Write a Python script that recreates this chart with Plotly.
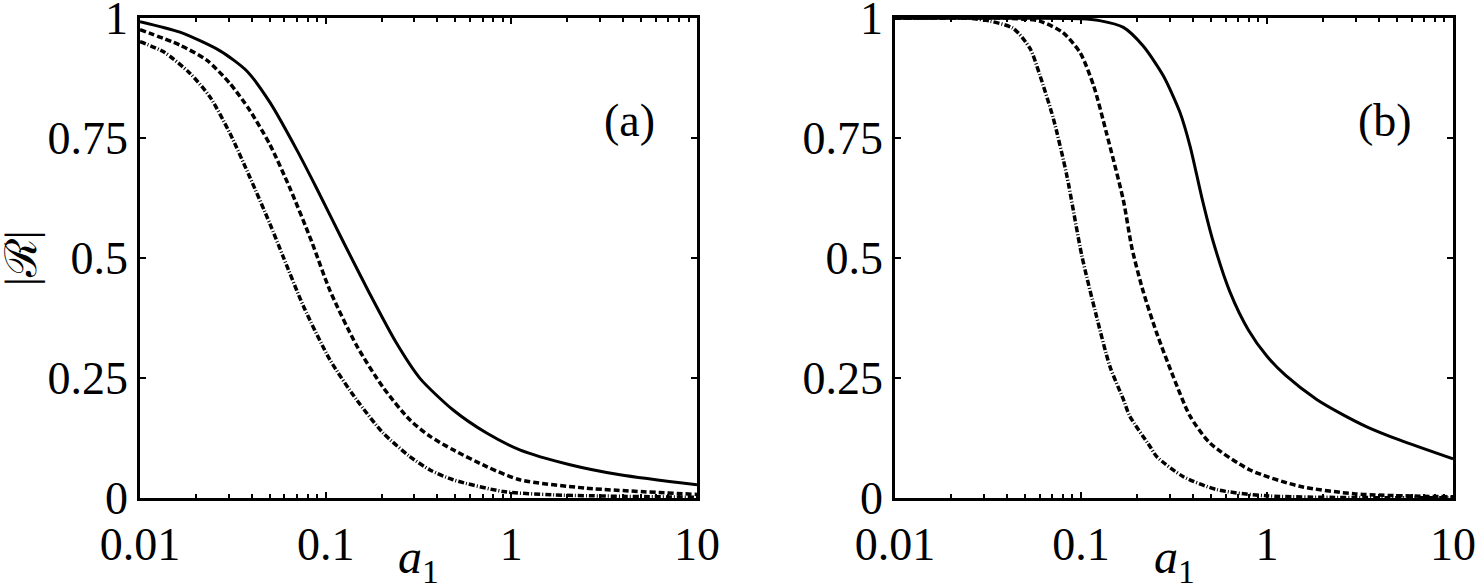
import plotly.graph_objects as go

# ---------------- data ----------------
# panel (a)
a_solid_x = [0.01, 0.0164, 0.027, 0.0376, 0.05, 0.07, 0.0895, 0.124, 0.173, 0.241, 0.322, 0.486, 0.736, 1.11, 2.07, 3.85, 10]
a_solid_y = [0.993, 0.971, 0.932, 0.890, 0.825, 0.725, 0.645, 0.535, 0.425, 0.322, 0.249, 0.183, 0.135, 0.100, 0.069, 0.048, 0.027]

a_dash_x = [0.01, 0.0164, 0.0229, 0.0305, 0.039, 0.05, 0.0643, 0.0839, 0.1055, 0.147, 0.204, 0.284, 0.365, 0.486, 0.736, 1.11, 2.54, 10]
a_dash_y = [0.976, 0.944, 0.9125, 0.864, 0.808, 0.737, 0.645, 0.535, 0.432, 0.317, 0.230, 0.1625, 0.128, 0.100, 0.065, 0.0375, 0.020, 0.007]

a_dd_x = [0.01, 0.0134, 0.0186, 0.0238, 0.0305, 0.039, 0.05, 0.059, 0.076, 0.1055, 0.147, 0.204, 0.284, 0.365, 0.486, 0.906, 1.7, 10]
a_dd_y = [0.951, 0.930, 0.885, 0.836, 0.760, 0.669, 0.572, 0.503, 0.399, 0.2875, 0.204, 0.135, 0.086, 0.058, 0.0375, 0.013, 0.006, 0.001]

# panel (b)
b_solid_x = [0.01, 0.05, 0.1, 0.126, 0.169, 0.216, 0.277, 0.341, 0.386, 0.447, 0.513, 0.631, 0.794, 1.0, 1.26, 1.85, 2.51, 3.44, 5.19, 10]
b_solid_y = [1.0, 1.0, 0.999, 0.995, 0.981, 0.942, 0.880, 0.803, 0.733, 0.625, 0.535, 0.43, 0.35, 0.295, 0.255, 0.205, 0.175, 0.148, 0.120, 0.081]

b_dash_x = [0.01, 0.04, 0.06, 0.08, 0.099, 0.117, 0.137, 0.169, 0.188, 0.216, 0.255, 0.313, 0.386, 0.494, 0.81, 1.5, 3, 10]
b_dash_y = [1.0, 1.0, 0.994, 0.970, 0.928, 0.859, 0.761, 0.620, 0.520, 0.430, 0.344, 0.253, 0.170, 0.114, 0.058, 0.024, 0.008, 0.002]

b_dd_x = [0.01, 0.025, 0.0324, 0.0432, 0.0532, 0.060, 0.071, 0.0838, 0.101, 0.121, 0.143, 0.169, 0.183, 0.235, 0.255, 0.355, 0.537, 1, 10]
b_dd_y = [1.0, 1.0, 0.994, 0.979, 0.937, 0.882, 0.791, 0.673, 0.505, 0.379, 0.274, 0.205, 0.170, 0.107, 0.086, 0.044, 0.017, 0.004, 0.0]

x_tickvals = [0.01, 0.1, 1, 10]
x_ticktext = ["0.01", "0.1", "1", "10"]
y_tickvals = [0, 0.25, 0.5, 0.75, 1]
y_ticktext = ["0", "0.25", "0.5", "0.75", "1"]
panel_labels = ["(a)", "(b)"]

# ---------------- figure ----------------
W, H = 1478, 588
FONT = "Liberation Serif"
fig = go.Figure()

styles = [
    dict(color="black", width=3, dash="solid", shape="spline", smoothing=0.7),
    dict(color="black", width=3.5, dash="6px,3px", shape="spline", smoothing=0.7),
    dict(color="black", width=3.5, dash="6px,2px,1px,2px", shape="spline", smoothing=0.7),
]

panels = [
    ("x", "y", [(a_solid_x, a_solid_y), (a_dash_x, a_dash_y), (a_dd_x, a_dd_y)]),
    ("x2", "y2", [(b_solid_x, b_solid_y), (b_dash_x, b_dash_y), (b_dd_x, b_dd_y)]),
]
for xa, ya, series in panels:
    for (sx, sy), st in zip(series, styles):
        fig.add_trace(go.Scatter(x=sx, y=sy, mode="lines", line=st, cliponaxis=True,
                                 xaxis=xa, yaxis=ya, showlegend=False, hoverinfo="skip"))

x_domains = [[140 / W, 697 / W], [895 / W, 1453 / W]]
y_domain = [1 - 498 / H, 1 - 18 / H]

common_x = dict(
    type="log", range=[-2, 1], tickvals=x_tickvals, ticktext=x_ticktext,
    ticks="inside", ticklen=6, tickwidth=2, tickcolor="black",
    showline=True, linewidth=2.5, linecolor="black", mirror="ticks",
    showgrid=False, zeroline=False, automargin=False,
    ticklabeloverflow="allow", ticklabelstandoff=4,
    tickfont=dict(family=FONT, size=46, color="black"),
    minor=dict(ticks="inside", ticklen=4, tickwidth=2, tickcolor="black", dtick="D1", showgrid=False),
)
common_y = dict(
    range=[-0.0005, 1.0005], tickvals=y_tickvals, ticktext=y_ticktext,
    ticks="inside", ticklen=6, tickwidth=2, tickcolor="black",
    showline=True, linewidth=2.5, linecolor="black", mirror="ticks",
    showgrid=False, zeroline=False, automargin=False,
    ticklabeloverflow="allow",
    tickfont=dict(family=FONT, size=46, color="black"),
    domain=y_domain,
)

fig.update_layout(
    width=W, height=H,
    margin=dict(l=0, r=0, t=0, b=0, autoexpand=False),
    paper_bgcolor="white", plot_bgcolor="white",
    xaxis=dict(common_x, domain=x_domains[0], anchor="y"),
    yaxis=dict(common_y, anchor="x"),
    xaxis2=dict(common_x, domain=x_domains[1], anchor="y2"),
    yaxis2=dict(common_y, anchor="x2"),
)

annotations = []
for xd, lab in zip(x_domains, panel_labels):
    annotations.append(dict(x=xd[1] - 68 / W, y=1 - 120 / H, xref="paper", yref="paper",
                            text=lab, showarrow=False, xanchor="center", yanchor="middle",
                            font=dict(family=FONT, size=46, color="black")))
    cx = (xd[0] + xd[1]) / 2
    annotations.append(dict(x=cx, y=1 - 560 / H, xref="paper", yref="paper",
                            text="<i>a</i><sub>1</sub>", showarrow=False,
                            xanchor="center", yanchor="middle",
                            font=dict(family=FONT, size=48, color="black")))
annotations.append(dict(x=22 / W, y=1 - 258 / H, xref="paper", yref="paper",
                        text="|ℛ|", textangle=-90, showarrow=False,
                        xanchor="center", yanchor="middle",
                        font=dict(family=FONT, size=44, color="black")))
fig.update_layout(annotations=annotations)

fig.write_html("out.html")
